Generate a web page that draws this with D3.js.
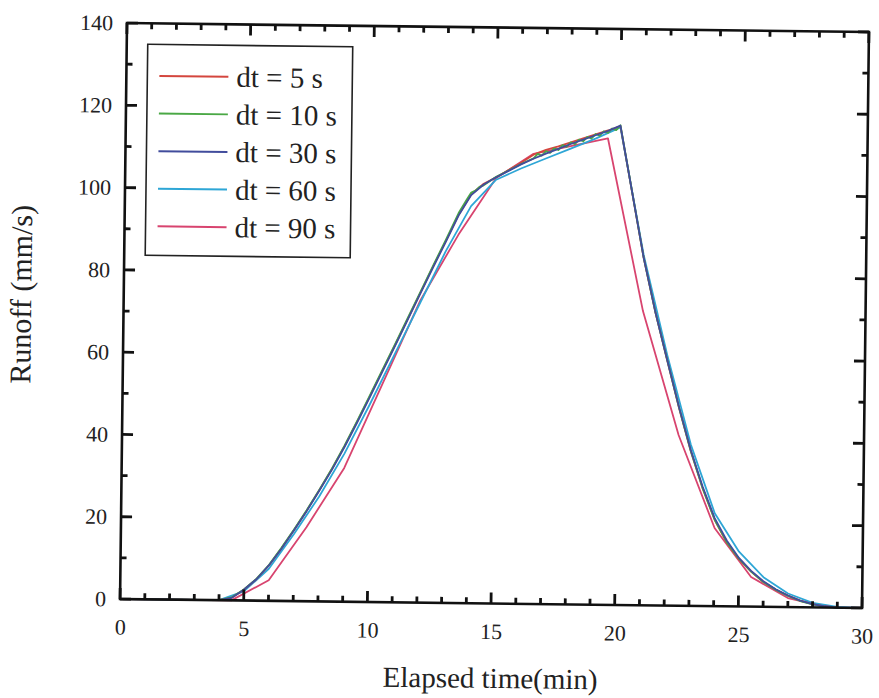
<!DOCTYPE html>
<html>
<head>
<meta charset="utf-8">
<script src="https://cdn.jsdelivr.net/npm/d3@7"></script>
<style>
  html, body { margin: 0; padding: 0; background: #fff; }
  svg { display: block; }
  text { font-family: "Liberation Serif", "Times New Roman", serif; fill: #222; }
</style>
</head>
<body>
<svg id="chart" width="879" height="698"></svg>
<script>
// Runoff hydrographs for different time steps: [elapsed time (min), runoff (mm/s)]
const seriesNames = ["dt = 5 s", "dt = 10 s", "dt = 30 s", "dt = 60 s", "dt = 90 s"];
const seriesColors = ["#d4463e", "#4aa845", "#414c9c", "#2ea6d6", "#d8446f"];

const dt5 = [
  [0,0],[4,0],[4.5,0.6],[5,2.6],[5.5,5.2],[6,8.6],[6.5,12.8],[7,17.3],[7.5,22],[8,27],
  [8.5,32.2],[9,37.8],[9.5,43.8],[10,50],[10.5,56.3],[11,62.6],[11.5,69],[12,75.4],
  [12.5,81.8],[13,88],[13.5,94.4],[14,99.4],[14.5,102],[15,103.6],[15.5,105.4],[16,107.2],
  [16.5,109.2],[17,110.4],[17.5,111.3],[18,112.3],[18.5,113.3],[19,114.3],[19.5,115.3],
  [20,116.4],[21,84.5],[21.5,71.3],[22,59.7],[22.5,48.2],[23,37.6],[23.5,28.6],[24,21],
  [24.5,15.5],[25,11.5],[25.5,8.5],[26,6],[26.5,4.2],[27,2.8],[27.5,1.6],[28,0.8],
  [28.5,0.3],[29,0],[30,0]
];

const dt10 = [
  [0,0],[4,0],[4.5,0.7],[5,2.7],[5.5,5.3],[6,8.7],[6.5,12.9],[7,17.4],[7.5,22.1],[8,27.1],
  [8.5,32.3],[9,37.9],[9.5,44],[10,50.2],[10.5,56.5],[11,62.8],[11.5,69.2],[12,75.6],
  [12.5,82],[13,88.3],[13.5,94.8],[13.83,98.2],[14,99.8],[14.17,100.3],[14.33,101.2],
  [14.5,101.6],[15,103.7],[15.5,105.3],[16,106.9],[16.5,108.3],
  [16.67,109.4],[16.83,109],[17,110.1],[17.17,109.7],[17.33,110.8],[17.5,110.4],
  [17.67,111.6],[17.83,111.2],[18,112.3],[18.17,111.9],[18.33,113],[18.5,112.6],
  [18.67,113.7],[18.83,113.3],[19,114.4],[19.17,114],[19.33,115.1],[19.5,114.7],
  [19.67,115.8],[19.83,115.4],[20,116.6],[21,84.6],[21.5,71.4],[22,59.8],[22.5,48.3],
  [23,37.7],[23.5,28.6],[24,21],[24.5,15.6],[25,11.6],[25.5,8.5],[26,6],[26.5,4.2],
  [27,2.7],[27.5,1.5],[28,0.7],[28.5,0.2],[29,0],[30,0]
];

const dt30 = [
  [0,0],[4,0],[4.5,0.6],[5,2.6],[5.5,5.2],[6,8.6],[6.5,12.7],[7,17.2],[7.5,21.9],[8,26.9],
  [8.5,32],[9,37.6],[9.5,43.6],[10,49.8],[10.5,56.1],[11,62.4],[11.5,68.8],[12,75.2],
  [12.5,81.6],[13,87.8],[13.5,94.2],[14,99.2],[14.5,101.8],[15,103.6],[15.5,105.2],[16,106.8],
  [16.5,108.2],[17,109.5],[17.5,110.7],[18,111.9],[18.5,113],[19,114.1],[19.5,115.2],
  [20,116.5],[21,84.6],[21.5,71.4],[22,59.8],[22.5,48.4],[23,37.9],[23.5,29],[24,21.4],
  [24.5,16],[25,11.8],[25.5,8.7],[26,6.2],[26.5,4.3],[27,2.8],[27.5,1.6],[28,0.8],
  [28.5,0.3],[29,0],[30,0]
];

const dt60 = [
  [0,0],[4,0],[5,2.2],[6,7.8],[7,16.3],[8,25.5],[9,36],[10,48],[11,60.5],[12,73],
  [13,85.5],[14,96.5],[15,103],[16,105.8],[17,108.3],[18,110.8],[19,113.3],[20,116.1],
  [21,85.2],[22,61],[23,39.2],[24,22.6],[25,13.3],[26,7.2],[27,3.3],[28,1.1],[29,0.2],[30,0]
];

const dt90 = [
  [0,0],[4.5,0],[6,5],[7.5,18],[9,32.5],[10.5,53],[12,73.5],[13.5,89.5],[15,103.4],
  [16.5,109.4],[18,111.4],[19.5,113.4],[21,71.5],[22.5,41.5],[24,19],[25.5,7.2],
  [27,2.2],[28.5,0.2],[30,0]
];

const allSeries = [dt5, dt10, dt30, dt60, dt90];

const xMajorTicks = [0, 5, 10, 15, 20, 25, 30];
const yMajorTicks = [0, 20, 40, 60, 80, 100, 120, 140];
const xLabel = "Elapsed time(min)";
const yLabel = "Runoff (mm/s)";

// ---- layout ----
const svg = d3.select("#chart");
const padL = 123.5, padT = 27.5, W = 742, H = 576;
const FONT = "Liberation Serif";

// the whole figure sits slightly tilted on the page
const root = svg.append("g")
  .attr("transform", `rotate(0.69, ${padL + W / 2}, ${padT + H / 2})`);

const plot = root.append("g").attr("transform", `translate(${padL},${padT})`);

const xs = d3.scaleLinear().domain([0, 30]).range([0, W]);
const ys = d3.scaleLinear().domain([0, 140]).range([H, 0]);

const xMinor = d3.range(0, 31, 1).filter(v => v % 5 !== 0);
const yMinor = d3.range(0, 141, 10).filter(v => v % 20 !== 0);

const MAJ = 11, MINLEN = 6;

// tick labels via d3 axes
plot.append("g").attr("transform", `translate(0,${H})`)
  .call(d3.axisBottom(xs).tickValues(xMajorTicks).tickSize(0).tickPadding(20).tickFormat(d3.format("d")))
  .call(g => g.select(".domain").remove())
  .call(g => g.selectAll(".tick text").attr("font-size", 22).attr("fill", "#222")
    .attr("font-family", FONT));
plot.append("g")
  .call(d3.axisLeft(ys).tickValues(yMajorTicks).tickSize(0).tickPadding(14).tickFormat(d3.format("d")))
  .call(g => g.select(".domain").remove())
  .call(g => g.selectAll(".tick text").attr("font-size", 22).attr("fill", "#222")
    .attr("font-family", FONT));

// data lines
const line = d3.line().x(d => xs(d[0])).y(d => ys(d[1]));
const drawOrder = [4, 3, 0, 1, 2];
drawOrder.forEach(i => {
  plot.append("path")
    .datum(allSeries[i])
    .attr("fill", "none")
    .attr("stroke", seriesColors[i])
    .attr("stroke-width", 1.8)
    .attr("stroke-linejoin", "round")
    .attr("d", line);
});

// frame
plot.append("rect")
  .attr("width", W).attr("height", H)
  .attr("fill", "none").attr("stroke", "#111").attr("stroke-width", 2.6);

// inward tick marks on all four sides, as one path
const tp = d3.path();
function addXTicks(vals, len) {
  vals.forEach(v => {
    tp.moveTo(xs(v), H); tp.lineTo(xs(v), H - len);
    tp.moveTo(xs(v), 0); tp.lineTo(xs(v), len);
  });
}
function addYTicks(vals, len) {
  vals.forEach(v => {
    tp.moveTo(0, ys(v)); tp.lineTo(len, ys(v));
    tp.moveTo(W, ys(v)); tp.lineTo(W - len, ys(v));
  });
}
addXTicks(xMajorTicks, MAJ);
addXTicks(xMinor, MINLEN);
addYTicks(yMajorTicks, MAJ);
addYTicks(yMinor, MINLEN);
plot.append("path")
  .attr("d", tp.toString())
  .attr("fill", "none")
  .attr("stroke", "#111")
  .attr("stroke-width", 2.8);

// legend
const legend = plot.append("g").attr("transform", "translate(21,21)");
legend.append("rect")
  .attr("width", 205).attr("height", 211)
  .attr("fill", "#fff").attr("stroke", "#222").attr("stroke-width", 1.6);
seriesNames.forEach((name, i) => {
  const row = legend.append("g").attr("transform", `translate(0,${31.5 + i * 37.6})`);
  row.append("line").attr("x1", 12).attr("x2", 81).attr("y1", 0).attr("y2", 0)
    .attr("stroke", seriesColors[i]).attr("stroke-width", 2);
  row.append("text").attr("x", 89).attr("y", 10).attr("font-size", 29)
    .attr("font-family", FONT).text(name);
});

// axis titles
root.append("text")
  .attr("x", padL + W / 2).attr("y", 688)
  .attr("text-anchor", "middle").attr("font-size", 29).attr("font-family", FONT)
  .text(xLabel);
root.append("text")
  .attr("transform", `translate(31,300) rotate(-90)`)
  .attr("text-anchor", "middle").attr("font-size", 30).attr("font-family", FONT)
  .text(yLabel);
</script>
</body>
</html>
